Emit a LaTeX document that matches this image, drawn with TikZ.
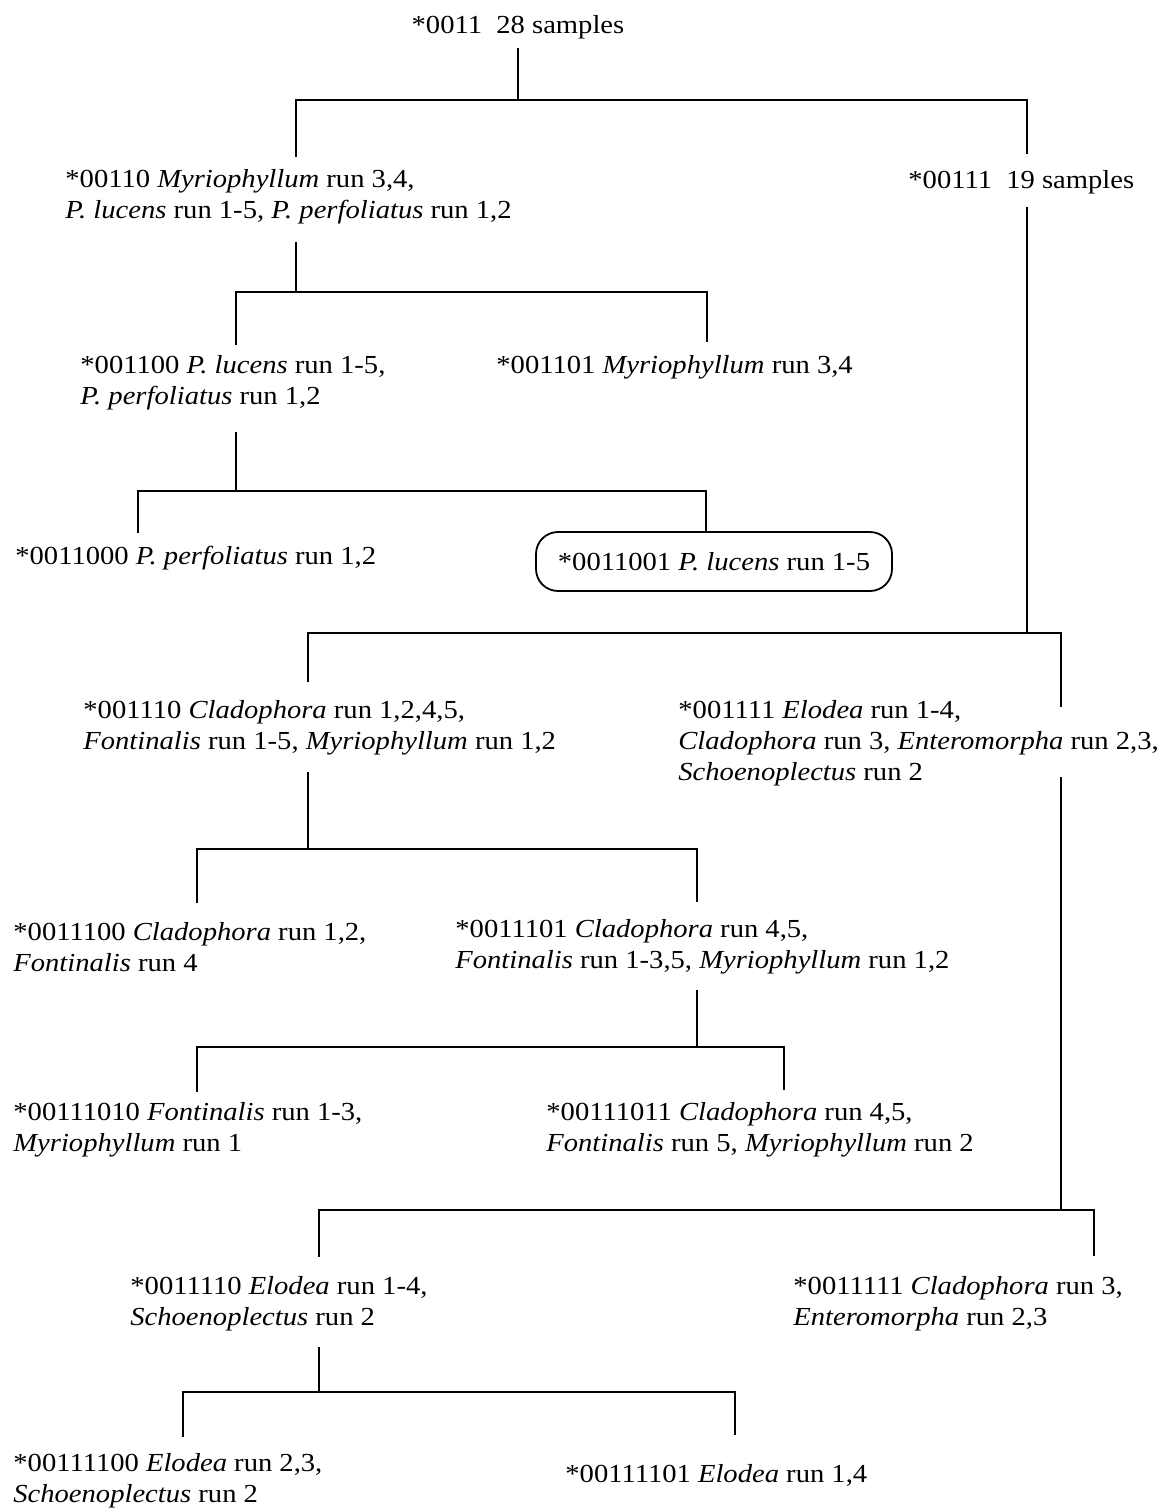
\documentclass[tikz,border=0pt]{standalone}
\usepackage{fontspec}
\setmainfont{Liberation Serif}[FakeStretch=1.1]
\begin{document}
\begin{tikzpicture}[x=0.5pt,y=-0.5pt,
  lbl/.style={inner sep=0pt,anchor=west,align=left,font=\fontsize{13}{15.5}\selectfont},
  conn/.style={line width=0.9pt}]
\useasboundingbox (0,0) rectangle (1159,1510);
% nodes
\node[lbl,anchor=center] (r) at (518,27) {*0011\ \ 28 samples};
\node[lbl] (a) at (65,197) {*00110 \textit{Myriophyllum} run 3,4,\\\textit{P. lucens} run 1-5, \textit{P. perfoliatus} run 1,2};
\node[lbl] (b) at (908,182) {*00111\ \ 19 samples};
\node[lbl] (aa) at (80,383) {*001100 \textit{P. lucens} run 1-5,\\\textit{P. perfoliatus} run 1,2};
\node[lbl] (ab) at (496,367) {*001101 \textit{Myriophyllum} run 3,4};
\node[lbl] (aaa) at (15,558) {*0011000 \textit{P. perfoliatus} run 1,2};
\node[lbl,anchor=center,draw,line width=0.9pt,rounded corners=11pt,minimum width=178pt,minimum height=29.5pt] (aab) at (714,561.5) {*0011001 \textit{P. lucens} run 1-5};
\node[lbl] (ba) at (83,727.5) {*001110 \textit{Cladophora} run 1,2,4,5,\\\textit{Fontinalis} run 1-5, \textit{Myriophyllum} run 1,2};
\node[lbl] (bb) at (678,743) {*001111 \textit{Elodea} run 1-4,\\\textit{Cladophora} run 3, \textit{Enteromorpha} run 2,3,\\\textit{Schoenoplectus} run 2};
\node[lbl] (baa) at (13,947) {*0011100 \textit{Cladophora} run 1,2,\\\textit{Fontinalis} run 4};
\node[lbl] (bab) at (455,947) {*0011101 \textit{Cladophora} run 4,5,\\\textit{Fontinalis} run 1-3,5, \textit{Myriophyllum} run 1,2};
\node[lbl] (baba) at (13,1130) {*00111010 \textit{Fontinalis} run 1-3,\\\textit{Myriophyllum} run 1};
\node[lbl] (babb) at (546,1130) {*00111011 \textit{Cladophora} run 4,5,\\\textit{Fontinalis} run 5, \textit{Myriophyllum} run 2};
\node[lbl] (bba) at (130,1303.5) {*0011110 \textit{Elodea} run 1-4,\\\textit{Schoenoplectus} run 2};
\node[lbl] (bbb) at (793,1303.5) {*0011111 \textit{Cladophora} run 3,\\\textit{Enteromorpha} run 2,3};
\node[lbl] (bbaa) at (13,1481) {*00111100 \textit{Elodea} run 2,3,\\\textit{Schoenoplectus} run 2};
\node[lbl] (bbab) at (565,1475) {*00111101 \textit{Elodea} run 1,4};
% connector coordinates
\coordinate (r-d) at (518,48);   \coordinate (r-j) at (518,100);
\coordinate (a-u) at (296,157);  \coordinate (b-u) at (1027,154);
\coordinate (a-d) at (296,242);  \coordinate (a-j) at (296,292);
\coordinate (aa-u) at (236,345); \coordinate (ab-u) at (707,342);
\coordinate (aa-d) at (236,432); \coordinate (aa-j) at (236,491);
\coordinate (aaa-u) at (138,533);\coordinate (aab-u) at (706,532);
\coordinate (b-d) at (1027,207); \coordinate (b-j) at (1027,633);
\coordinate (ba-u) at (308,682); \coordinate (bb-u) at (1061,707);
\coordinate (ba-d) at (308,772); \coordinate (ba-j) at (308,849);
\coordinate (baa-u) at (197,903);\coordinate (bab-u) at (697,902);
\coordinate (bab-d) at (697,990);\coordinate (bab-j) at (697,1047);
\coordinate (baba-u) at (197,1092);\coordinate (babb-u) at (784,1090);
\coordinate (bb-d) at (1061,777);\coordinate (bb-j) at (1061,1210);
\coordinate (bba-u) at (319,1257);\coordinate (bbb-u) at (1094,1256);
\coordinate (bba-d) at (319,1347);\coordinate (bba-j) at (319,1392);
\coordinate (bbaa-u) at (183,1437);\coordinate (bbab-u) at (735,1435);
% connectors
\draw[conn] (r-d) -- (r-j);   \draw[conn] (a-u) |- (r-j) -| (b-u);
\draw[conn] (a-d) -- (a-j);   \draw[conn] (aa-u) |- (a-j) -| (ab-u);
\draw[conn] (aa-d) -- (aa-j); \draw[conn] (aaa-u) |- (aa-j) -| (aab-u);
\draw[conn] (b-d) -- (b-j);   \draw[conn] (ba-u) |- (b-j) -| (bb-u);
\draw[conn] (ba-d) -- (ba-j); \draw[conn] (baa-u) |- (ba-j) -| (bab-u);
\draw[conn] (bab-d) -- (bab-j); \draw[conn] (baba-u) |- (bab-j) -| (babb-u);
\draw[conn] (bb-d) -- (bb-j); \draw[conn] (bba-u) |- (bb-j) -| (bbb-u);
\draw[conn] (bba-d) -- (bba-j); \draw[conn] (bbaa-u) |- (bba-j) -| (bbab-u);
\end{tikzpicture}
\end{document}
